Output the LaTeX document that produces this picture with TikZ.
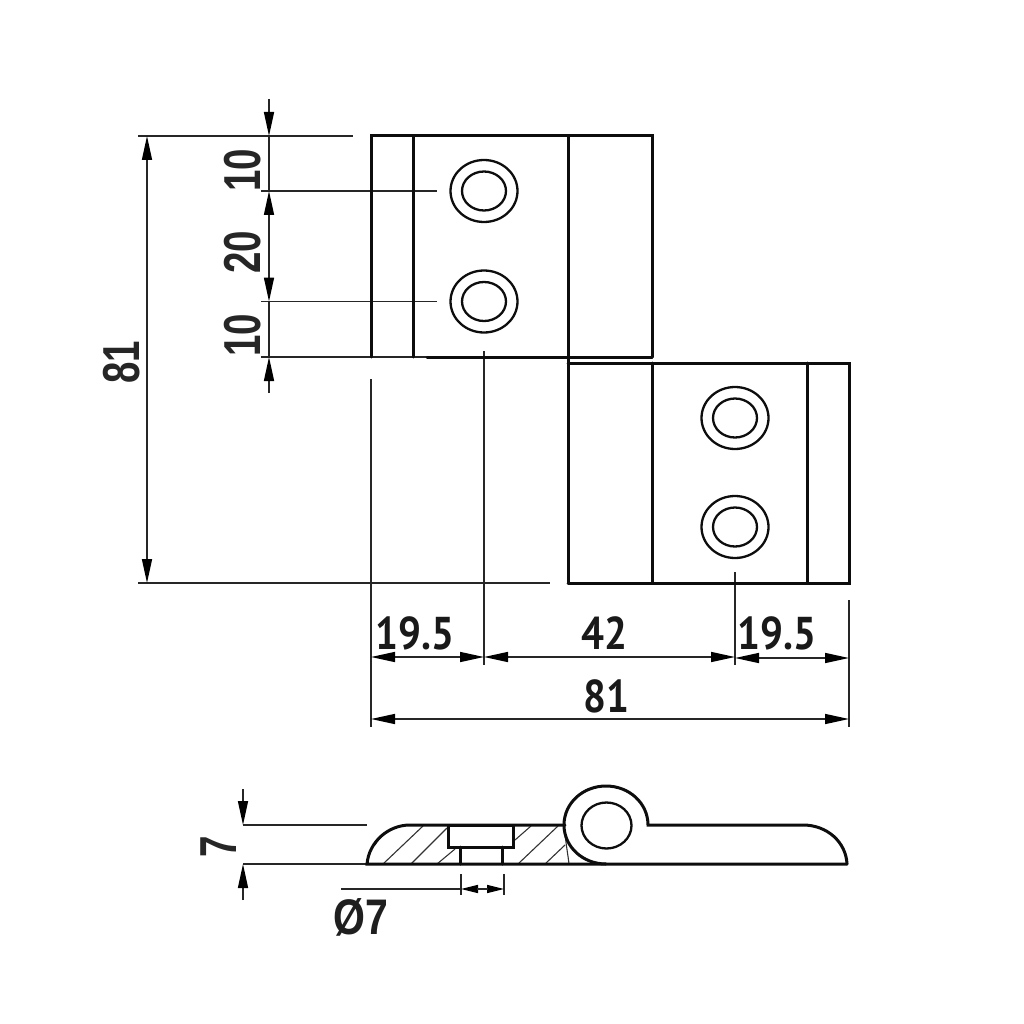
\documentclass[tikz,border=0pt]{standalone}
\usepackage{fontspec}
\setmainfont{PT Sans}
\newfontfamily\helv[FakeStretch=0.74]{Liberation Sans Bold}
\newfontfamily\hdim[FakeStretch=0.88]{PT Sans Bold}
\newfontfamily\hdia[FakeStretch=0.82]{Liberation Sans Bold}
\usetikzlibrary{arrows.meta}
\tikzset{
  part/.style={line width=3pt,black!95,line cap=round,line join=miter},
  holeline/.style={line width=2.3pt,black!95},
  thin dim/.style={line width=1.5pt,black!85},
  hatch/.style={line width=1.1pt,black!80},
  tipped/.style={thin dim,-{Stealth[length=24pt,width=10pt,inset=0pt,black]}},
  smalltipped/.style={thin dim,-{Stealth[length=17pt,width=8pt,inset=0pt,black]}},
  hlabel/.style={inner sep=0pt,font=\hdim\fontsize{46}{46}\selectfont,black!90},
  vlabel/.style={inner sep=0pt,rotate=90,font=\helv\fontsize{52}{52}\selectfont,black!85}
}
\begin{document}
\begin{tikzpicture}[x=1pt,y=-1pt]
\useasboundingbox (0,0) rectangle (1024,1024);
% named points
\coordinate (hA) at (484,191);
\coordinate (hB) at (484,301.5);
\coordinate (hC) at (735,418);
\coordinate (hD) at (735,527);
% thin extension lines (behind)
\draw[thin dim] (138,136) -- (353,136);
\draw[thin dim] (261,191) -- (437,191);
\draw[thin dim] (261,301.5) -- (437,301.5);
\draw[thin dim] (261,357) -- (427,357);
\draw[thin dim] (138,583) -- (550,583);
\draw[thin dim] (371,379) -- (371,727);
\draw[thin dim] (484,351) -- (484,665);
\draw[thin dim] (735,572) -- (735,665);
\draw[thin dim] (849,600) -- (849,727);
% left plate
\draw[part] (371,357) -- (371,136) -- (652,136) -- (652,357);
\draw[part] (413,136) -- (413,357);
\draw[part] (568,136) -- (568,583);
\draw[part] (427,357) -- (652,357);
% right plate
\draw[part] (568,363) -- (849,363) -- (849,583) -- (568,583);
\draw[part] (652,363) -- (652,583);
\draw[part] (807,363) -- (807,583);
% holes
\foreach \h in {hA,hB,hC,hD}{
  \draw[holeline] (\h) ellipse [x radius=33.5,y radius=31];
  \draw[holeline] (\h) ellipse [x radius=22,y radius=19.5];
}
% vertical dims left
\draw[tipped] (269,99) -- (269,136);
\draw[thin dim] (269,136) -- (269,191);
\draw[tipped] (269,246) -- (269,191);
\draw[tipped] (269,246) -- (269,301.5);
\draw[thin dim] (269,301.5) -- (269,357);
\draw[tipped] (269,393) -- (269,357);
\draw[tipped] (147,360) -- (147,136);
\draw[tipped] (147,360) -- (147,583);
% horizontal dims
\draw[tipped] (427,657) -- (371,657);
\draw[tipped] (427,657) -- (484,657);
\draw[tipped] (610,657) -- (484,657);
\draw[tipped] (610,657) -- (735,657);
\draw[tipped] (792,658) -- (735,658);
\draw[tipped] (792,658) -- (849,658);
\draw[tipped] (610,719) -- (371,719);
\draw[tipped] (610,719) -- (849,719);
% section
\draw[thin dim] (243,825) -- (367,825);
\draw[thin dim] (243,864) -- (367,864);
\draw[tipped] (243,789) -- (243,825);
\draw[tipped] (243,900) -- (243,864);
\draw[hatch] (383,864) -- (423,826);
\draw[hatch] (411,864) -- (447,828);
\draw[hatch] (437,864) -- (455,849);
\draw[hatch] (515,840) -- (531,826);
\draw[hatch] (518,864) -- (558,826);
\draw[hatch] (545,864) -- (565,845);
\draw[hatch] (565,833) .. controls (566,845) and (568,855) .. (569,864);
\draw[hatch] (375,845) .. controls (380,836) and (388,831) .. (398,827);
\draw[part] (847,864) -- (367,864)
  .. controls (369,842) and (388,825) .. (410,825) -- (565,825);
\draw[part] (606,864) .. controls (583,864) and (564,847) .. (564,825)
  .. controls (564,803) and (583,786) .. (606,786)
  .. controls (629,786) and (648,803) .. (648,825)
  -- (803,825) .. controls (827,825) and (846,842) .. (847,864);
\draw[holeline] (606.5,825.5) ellipse [x radius=25,y radius=23];
\draw[part] (448,825) rectangle (513,847);
\draw[part] (460,847) -- (460,864);
\draw[part] (502,847) -- (502,864);
% bore dim
\draw[thin dim] (461,874) -- (461,895);
\draw[thin dim] (504,874) -- (504,895);
\draw[thin dim] (341,889) -- (461,889);
\draw[smalltipped] (477,889) -- (461,889);
\draw[smalltipped] (488,889) -- (504,889);
\draw[thin dim] (477,889) -- (488,889);
% labels
\node[vlabel] (t10a) at (243,170) {10};
\node[vlabel] (t20) at (243,252) {20};
\node[vlabel] (t10b) at (243,335) {10};
\node[vlabel] (t81v) at (122,362) {81};
\node[vlabel] (t7) at (219,847) {7};
\node[hlabel] (t195a) at (415,633) {19.5};
\node[hlabel] (t42) at (604,633) {42};
\node[hlabel] (t195b) at (777,633) {19.5};
\node[hlabel] (t81h) at (606,696) {81};
\node[inner sep=0pt,font=\hdia\fontsize{50}{50}\selectfont,black!88] (tdia) at (361,917) {Ø7};
\end{tikzpicture}
\end{document}
